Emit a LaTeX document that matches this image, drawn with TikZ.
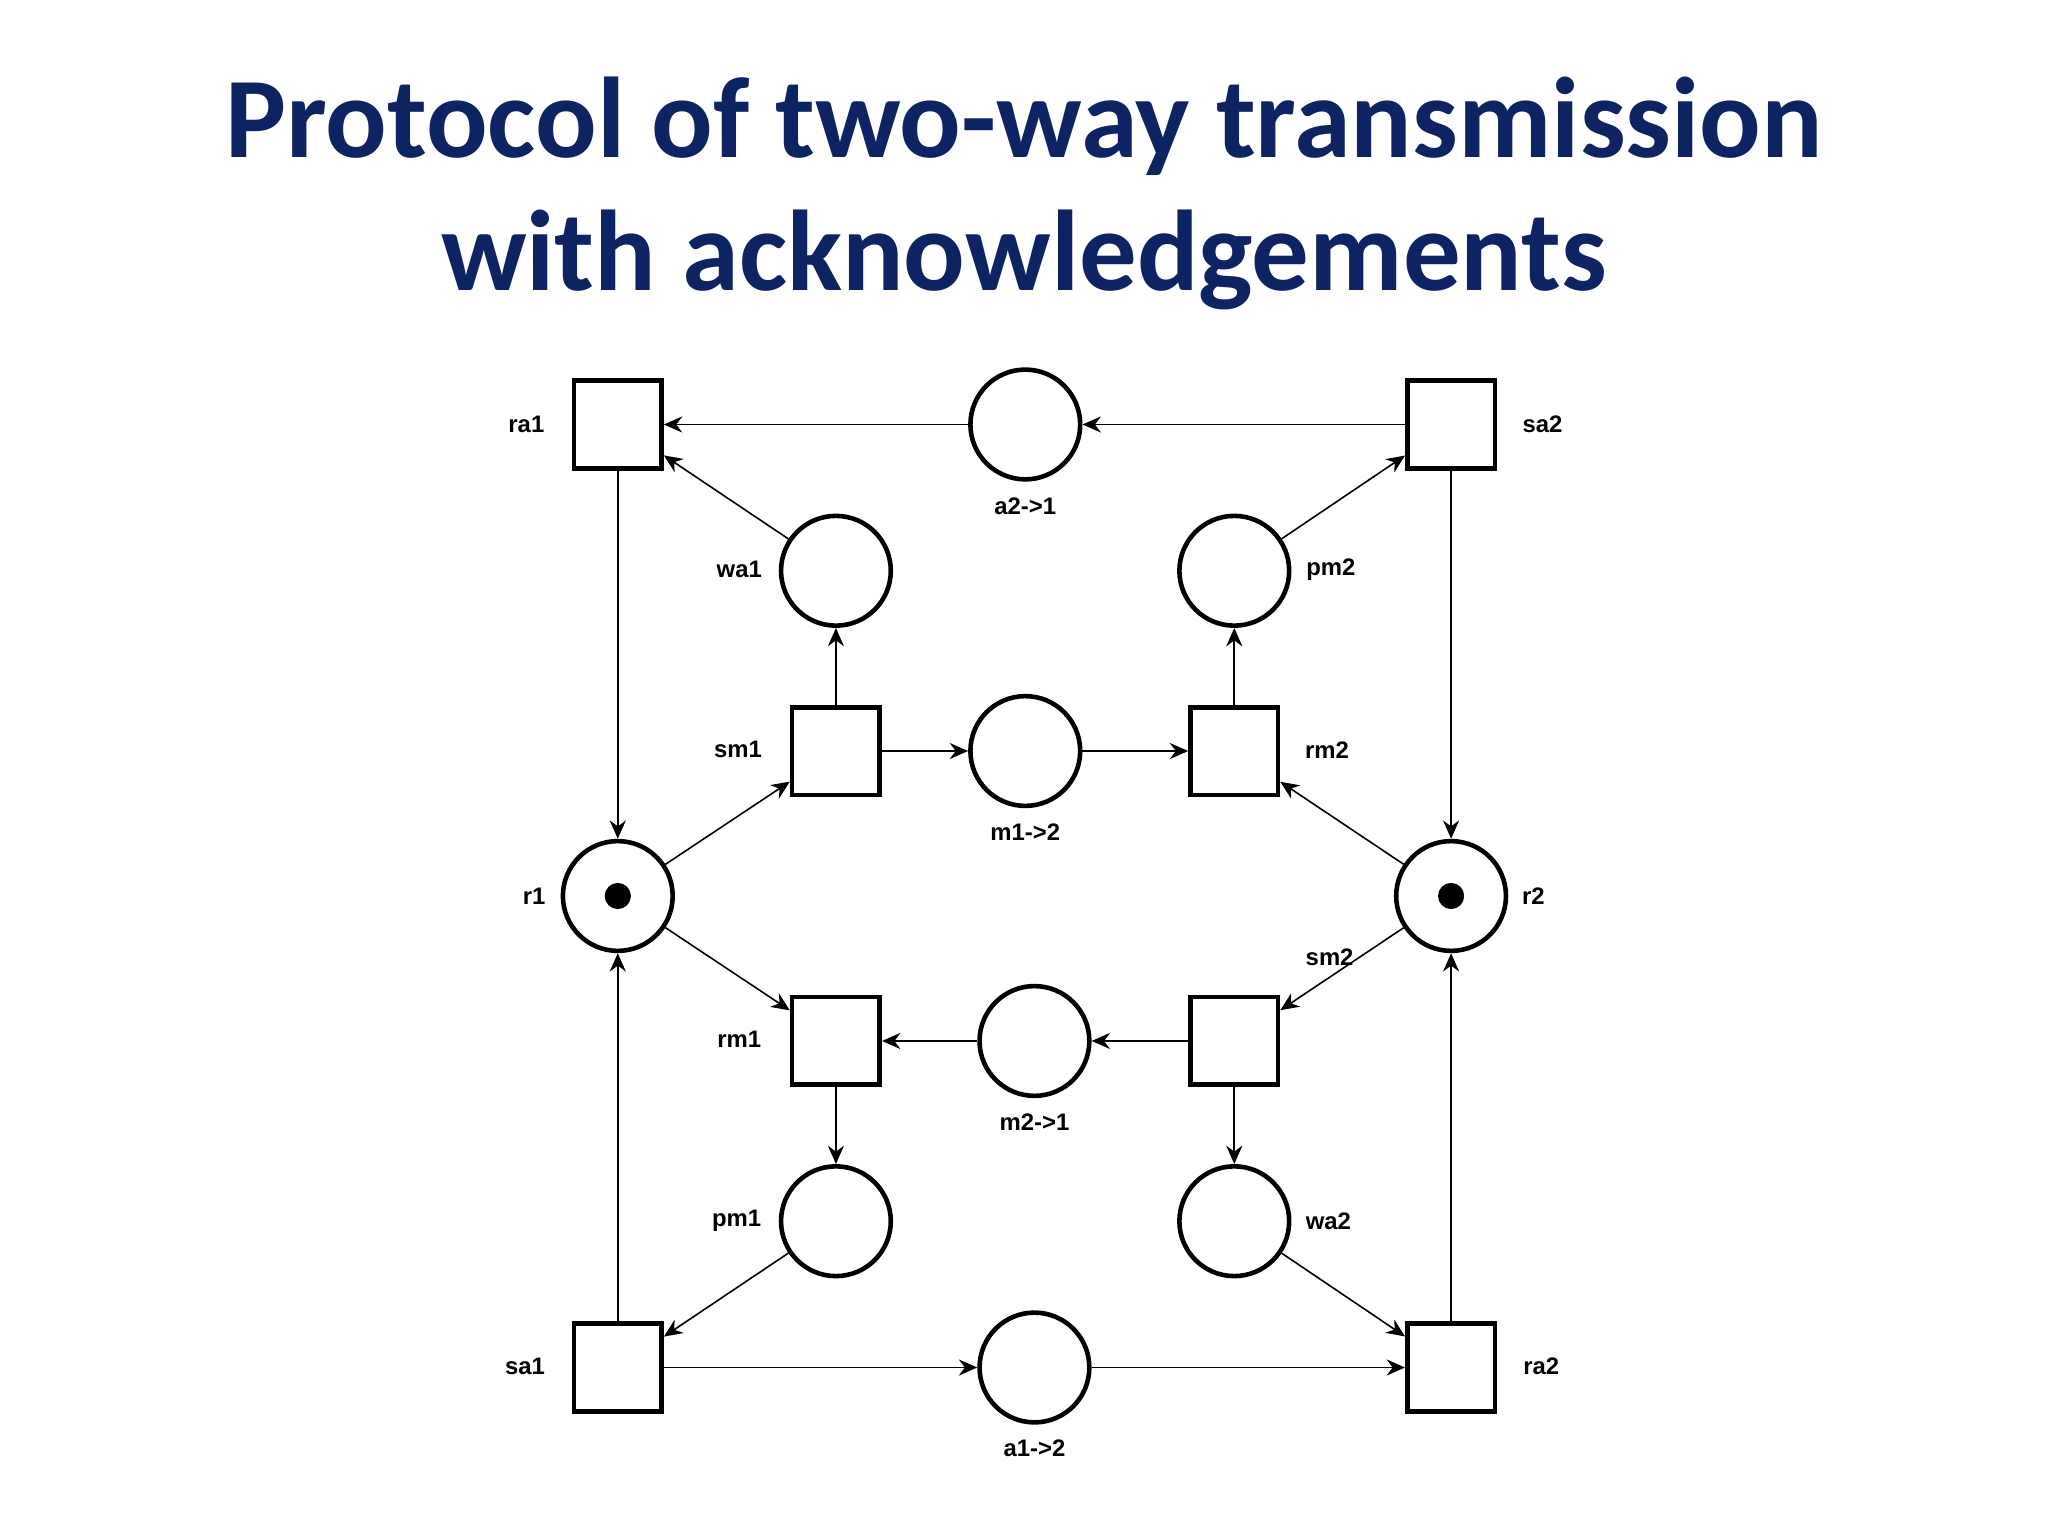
\documentclass[tikz,border=0pt]{standalone}
\usepackage{fontspec}
\setmainfont{Carlito}
\newfontfamily\lab{Liberation Sans}
\usetikzlibrary{arrows.meta}
\definecolor{navy}{HTML}{0E2462}
\begin{document}
\begin{tikzpicture}[x=0.01cm,y=-0.01cm,
  pl/.style={circle,draw,line width=1pt,minimum size=0.84cm,inner sep=0pt},
  tr/.style={rectangle,draw,line width=1pt,minimum size=0.67cm,inner sep=0pt},
  lb/.style={font=\lab\bfseries\fontsize{5.2}{6}\selectfont},
  arc/.style={-{Stealth[length=4pt,width=3.5pt]},line width=0.35pt}]
\useasboundingbox[fill=white] (0,0) rectangle (1568,1176);
\node[font=\bfseries\fontsize{25}{29}\selectfont,text=navy,align=center] (title) at (784,148) {Protocol of two-way transmission\\with acknowledgements};
% transitions
\node[tr] (ra1) at (473,325) {};
\node[tr] (sa2) at (1111,325) {};
\node[tr] (sm1) at (640,575) {};
\node[tr] (rm2) at (945,575) {};
\node[tr] (rm1) at (640,797) {};
\node[tr] (sm2) at (945,797) {};
\node[tr] (sa1) at (473,1047) {};
\node[tr] (ra2) at (1111,1047) {};
% places
\node[pl] (a21) at (785,325) {};
\node[pl] (wa1) at (640,437) {};
\node[pl] (pm2) at (945,437) {};
\node[pl] (m12) at (785,575) {};
\node[pl] (r1) at (473,686) {};
\node[pl] (r2) at (1111,686) {};
\node[pl] (m21) at (792,797) {};
\node[pl] (pm1) at (640,935) {};
\node[pl] (wa2) at (945,935) {};
\node[pl] (a12) at (792,1047) {};
\fill (r1) circle (0.1cm);
\fill (r2) circle (0.1cm);
% labels
\node[lb] (lra1) at (403,325) {ra1};
\node[lb] (lsa2) at (1181,325) {sa2};
\node[lb] (la21) at (785,388) {a2->1};
\node[lb] (lwa1) at (566,436) {wa1};
\node[lb] (lpm2) at (1019,436) {pm2};
\node[lb] (lsm1) at (565,574) {sm1};
\node[lb] (lrm2) at (1016,574) {rm2};
\node[lb] (lm12) at (785,637) {m1->2};
\node[lb] (lr1) at (409,686) {r1};
\node[lb] (lr2) at (1174,686) {r2};
\node[lb] (lsm2) at (1018,733) {sm2};
\node[lb] (lrm1) at (566,796) {rm1};
\node[lb] (lm21) at (792,859) {m2->1};
\node[lb] (lpm1) at (564,935) {pm1};
\node[lb] (lwa2) at (1017,935) {wa2};
\node[lb] (lsa1) at (402,1046) {sa1};
\node[lb] (la12) at (792,1109) {a1->2};
\node[lb] (lra2) at (1180,1046) {ra2};
% arcs
\draw[arc] (sa2) -- (a21);
\draw[arc] (a21) -- (ra1);
\draw[arc] (wa1) -- (ra1);
\draw[arc] (ra1) -- (r1);
\draw[arc] (sa2) -- (r2);
\draw[arc] (pm2) -- (sa2);
\draw[arc] (sm1) -- (wa1);
\draw[arc] (rm2) -- (pm2);
\draw[arc] (sm1) -- (m12);
\draw[arc] (m12) -- (rm2);
\draw[arc] (r1) -- (sm1);
\draw[arc] (r2) -- (rm2);
\draw[arc] (r1) -- (rm1);
\draw[arc] (r2) -- (sm2);
\draw[arc] (sm2) -- (m21);
\draw[arc] (m21) -- (rm1);
\draw[arc] (rm1) -- (pm1);
\draw[arc] (sm2) -- (wa2);
\draw[arc] (pm1) -- (sa1);
\draw[arc] (wa2) -- (ra2);
\draw[arc] (sa1) -- (r1);
\draw[arc] (ra2) -- (r2);
\draw[arc] (sa1) -- (a12);
\draw[arc] (a12) -- (ra2);
\end{tikzpicture}
\end{document}
